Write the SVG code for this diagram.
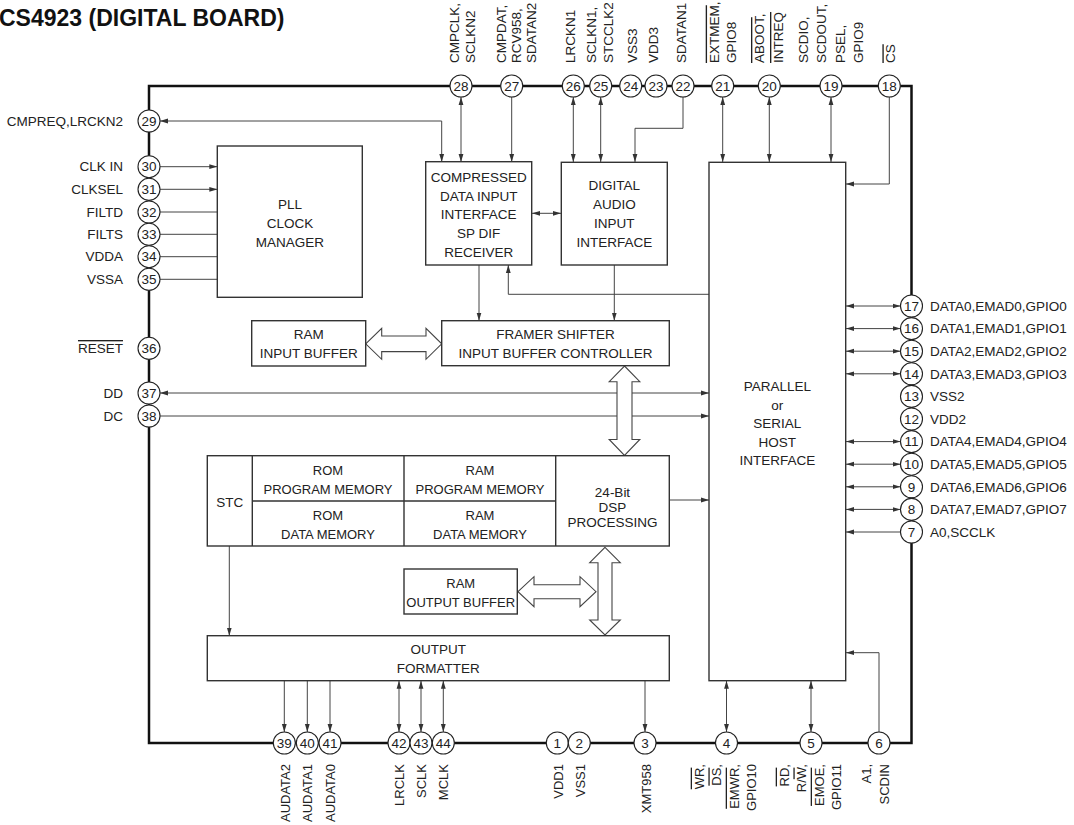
<svg xmlns="http://www.w3.org/2000/svg" width="1074" height="825" viewBox="0 0 1074 825">
<style>
text{font-family:"Liberation Sans",Arial,sans-serif;font-size:13.5px;fill:#222}
.t{font-size:23px;font-weight:bold;fill:#111}
.c{text-anchor:middle}
.r{text-anchor:end}
.s{font-size:13px}
.box{fill:#fff;stroke:#333;stroke-width:1.4}
.ln{fill:none;stroke:#444;stroke-width:1}
.fat{fill:#fff;stroke:#444;stroke-width:1.1}
.pin{fill:#fff;stroke:#222;stroke-width:1.1}
.ol{text-decoration:overline}
</style>
<defs>
<marker id="a" viewBox="0 0 8 6" refX="8" refY="3" markerWidth="8" markerHeight="6" markerUnits="userSpaceOnUse" orient="auto-start-reverse"><path d="M0,0.6 L8,3 L0,5.4 z" fill="#333"/></marker>
</defs>
<text class="t" x="-1" y="26">CS4923 (DIGITAL BOARD)</text>
<rect x="149" y="86" width="762.5" height="657" fill="none" stroke="#111" stroke-width="2.5"/>

<g id="connectors">
<path class="ln" d="M160,121 H441.7 V162" marker-start="url(#a)" marker-end="url(#a)"/>
<path class="ln" d="M461,97 V162" marker-start="url(#a)" marker-end="url(#a)"/>
<path class="ln" d="M511.7,97 V162" marker-end="url(#a)"/>
<path class="ln" d="M573.3,97 V162" marker-start="url(#a)" marker-end="url(#a)"/>
<path class="ln" d="M600.7,97 V162" marker-start="url(#a)" marker-end="url(#a)"/>
<path class="ln" d="M683,97 V128.3 H635 V162" marker-end="url(#a)"/>
<path class="ln" d="M722.7,97 V162" marker-start="url(#a)" marker-end="url(#a)"/>
<path class="ln" d="M769.3,97 V162" marker-start="url(#a)" marker-end="url(#a)"/>
<path class="ln" d="M831,97 V162" marker-start="url(#a)" marker-end="url(#a)"/>
<path class="ln" d="M889.3,97 V184 H846" marker-end="url(#a)"/>
<path class="ln" d="M532,213.3 H561" marker-start="url(#a)" marker-end="url(#a)"/>
<path class="ln" d="M479,265 V320.7" marker-end="url(#a)"/>
<path class="ln" d="M614.3,265 V320.7" marker-end="url(#a)"/>
<path class="ln" d="M709,294.3 H508.3 V265" marker-end="url(#a)"/>
<path class="ln" d="M160,166.7 H217.3" marker-end="url(#a)"/>
<path class="ln" d="M160,189.3 H217.3" marker-end="url(#a)"/>
<path class="ln" d="M160,212 H217.3"/>
<path class="ln" d="M160,234.3 H217.3"/>
<path class="ln" d="M160,256.7 H217.3"/>
<path class="ln" d="M160,279.3 H217.3"/>
<path class="ln" d="M160,393 H709" marker-start="url(#a)" marker-end="url(#a)"/>
<path class="ln" d="M160,416 H709" marker-end="url(#a)"/>
<path class="ln" d="M669.3,500 H709" marker-end="url(#a)"/>
<path class="ln" d="M229.3,546 V635.7" marker-end="url(#a)"/>
<path class="ln" d="M284.3,680.7 V732" marker-end="url(#a)"/>
<path class="ln" d="M307.3,680.7 V732" marker-end="url(#a)"/>
<path class="ln" d="M330,680.7 V732" marker-end="url(#a)"/>
<path class="ln" d="M399,680.7 V732" marker-start="url(#a)" marker-end="url(#a)"/>
<path class="ln" d="M421,680.7 V732" marker-start="url(#a)" marker-end="url(#a)"/>
<path class="ln" d="M443.3,680.7 V732" marker-start="url(#a)" marker-end="url(#a)"/>
<path class="ln" d="M645,680.7 V732" marker-end="url(#a)"/>
<path class="ln" d="M726.5,680.7 V732" marker-start="url(#a)" marker-end="url(#a)"/>
<path class="ln" d="M811,680.7 V732" marker-start="url(#a)" marker-end="url(#a)"/>
<path class="ln" d="M879,732 V652.7 H846" marker-end="url(#a)"/>
<path class="ln" d="M846,306 H900.5" marker-start="url(#a)" marker-end="url(#a)"/>
<path class="ln" d="M846,328.6 H900.5" marker-start="url(#a)" marker-end="url(#a)"/>
<path class="ln" d="M846,351.2 H900.5" marker-start="url(#a)" marker-end="url(#a)"/>
<path class="ln" d="M846,373.8 H900.5" marker-start="url(#a)" marker-end="url(#a)"/>
<path class="ln" d="M846,441.6 H900.5" marker-start="url(#a)" marker-end="url(#a)"/>
<path class="ln" d="M846,464.2 H900.5" marker-start="url(#a)" marker-end="url(#a)"/>
<path class="ln" d="M846,486.8 H900.5" marker-start="url(#a)" marker-end="url(#a)"/>
<path class="ln" d="M846,509.4 H900.5" marker-start="url(#a)" marker-end="url(#a)"/>
<path class="ln" d="M900.5,532 H846" marker-end="url(#a)"/>
<polygon class="fat" points="365.7,343.8 381.7,328.3 381.7,336 426,336 426,328.3 441.7,343.8 426,359.3 426,351.6 381.7,351.6 381.7,359.3"/>
<polygon class="fat" points="624.5,366 639.8,381.7 632,381.7 632,439.5 639.8,439.5 624.5,455.5 609.2,439.5 617,439.5 617,381.7 609.2,381.7"/>
<polygon class="fat" points="518,591.7 534,576.7 534,584.7 580,584.7 580,576.7 596,591.7 580,606.7 580,598.7 534,598.7 534,606.7"/>
<polygon class="fat" points="605,547.3 620.3,562.7 612,562.7 612,620 620.3,620 605,635 589.7,620 598,620 598,562.7 589.7,562.7"/>
</g>

<g id="pll"><rect class="box" x="217.3" y="146" width="145" height="151.3"/>
<text class="c" x="290" y="209">PLL</text><text class="c" x="290" y="228">CLOCK</text><text class="c" x="290" y="247">MANAGER</text></g>
<g id="ram-input"><rect class="box" x="251.7" y="320.7" width="114" height="45.3"/>
<text class="c" x="308.7" y="339">RAM</text><text class="c" x="308.7" y="358">INPUT BUFFER</text></g>
<g id="compressed"><rect class="box" x="425.7" y="161.7" width="106" height="103.3"/>
<text class="c" x="478.7" y="182">COMPRESSED</text><text class="c" x="478.7" y="200.5">DATA INPUT</text><text class="c" x="478.7" y="219">INTERFACE</text><text class="c" x="478.7" y="238">SP DIF</text><text class="c" x="478.7" y="257">RECEIVER</text></g>
<g id="digital-audio"><rect class="box" x="561.3" y="162.3" width="106" height="102.7"/>
<text class="c" x="614.3" y="190">DIGITAL</text><text class="c" x="614.3" y="209">AUDIO</text><text class="c" x="614.3" y="228">INPUT</text><text class="c" x="614.3" y="247">INTERFACE</text></g>
<g id="framer"><rect class="box" x="441.7" y="320.7" width="227.6" height="45"/>
<text class="c" x="555.5" y="339">FRAMER SHIFTER</text><text class="c" x="555.5" y="358">INPUT BUFFER CONTROLLER</text></g>
<g id="host"><rect class="box" x="709" y="162.3" width="136.7" height="518.4"/>
<text class="c" x="777.3" y="391">PARALLEL</text><text class="c" x="777.3" y="409.5">or</text><text class="c" x="777.3" y="428">SERIAL</text><text class="c" x="777.3" y="446.5">HOST</text><text class="c" x="777.3" y="465">INTERFACE</text></g>
<g id="dsp-row"><rect class="box" x="207.3" y="455.7" width="462" height="90.3"/>
<path class="box" d="M252.3,455.7 V546 M404,455.7 V546 M555.7,455.7 V546 M252.3,501 H555.7" fill="none"/>
<text class="c" x="229.8" y="506.5">STC</text>
<text class="c s" x="328" y="475">ROM</text><text class="c s" x="328" y="494">PROGRAM MEMORY</text>
<text class="c s" x="328" y="520">ROM</text><text class="c s" x="328" y="539">DATA MEMORY</text>
<text class="c s" x="480" y="475">RAM</text><text class="c s" x="480" y="494">PROGRAM MEMORY</text>
<text class="c s" x="480" y="520">RAM</text><text class="c s" x="480" y="539">DATA MEMORY</text>
<text class="c" x="612.5" y="497">24-Bit</text><text class="c" x="612.5" y="512">DSP</text><text class="c" x="612.5" y="527">PROCESSING</text></g>
<g id="ram-output"><rect class="box" x="404" y="569" width="113.3" height="45"/>
<text class="c s" x="460.7" y="588">RAM</text><text class="c s" x="460.7" y="607">OUTPUT BUFFER</text></g>
<g id="output-formatter"><rect class="box" x="207.3" y="635.7" width="462" height="45"/>
<text class="c" x="438.3" y="654">OUTPUT</text><text class="c" x="438.3" y="673">FORMATTER</text></g>

<g id="pins">
<g id="pin28"><circle class="pin" cx="461" cy="86" r="11"/><text class="c" x="461" y="90.7">28</text></g>
<g id="pin27"><circle class="pin" cx="511.7" cy="86" r="11"/><text class="c" x="511.7" y="90.7">27</text></g>
<g id="pin26"><circle class="pin" cx="573.3" cy="86" r="11"/><text class="c" x="573.3" y="90.7">26</text></g>
<g id="pin25"><circle class="pin" cx="600.7" cy="86" r="11"/><text class="c" x="600.7" y="90.7">25</text></g>
<g id="pin24"><circle class="pin" cx="630.7" cy="86" r="11"/><text class="c" x="630.7" y="90.7">24</text></g>
<g id="pin23"><circle class="pin" cx="656" cy="86" r="11"/><text class="c" x="656" y="90.7">23</text></g>
<g id="pin22"><circle class="pin" cx="683" cy="86" r="11"/><text class="c" x="683" y="90.7">22</text></g>
<g id="pin21"><circle class="pin" cx="722.7" cy="86" r="11"/><text class="c" x="722.7" y="90.7">21</text></g>
<g id="pin20"><circle class="pin" cx="769.3" cy="86" r="11"/><text class="c" x="769.3" y="90.7">20</text></g>
<g id="pin19"><circle class="pin" cx="831" cy="86" r="11"/><text class="c" x="831" y="90.7">19</text></g>
<g id="pin18"><circle class="pin" cx="889.3" cy="86" r="11"/><text class="c" x="889.3" y="90.7">18</text></g>
<g id="pin29"><circle class="pin" cx="149" cy="121" r="11"/><text class="c" x="149" y="125.7">29</text></g>
<g id="pin30"><circle class="pin" cx="149" cy="166.7" r="11"/><text class="c" x="149" y="171.4">30</text></g>
<g id="pin31"><circle class="pin" cx="149" cy="189.3" r="11"/><text class="c" x="149" y="194">31</text></g>
<g id="pin32"><circle class="pin" cx="149" cy="212" r="11"/><text class="c" x="149" y="216.7">32</text></g>
<g id="pin33"><circle class="pin" cx="149" cy="234.3" r="11"/><text class="c" x="149" y="239">33</text></g>
<g id="pin34"><circle class="pin" cx="149" cy="256.7" r="11"/><text class="c" x="149" y="261.4">34</text></g>
<g id="pin35"><circle class="pin" cx="149" cy="279.3" r="11"/><text class="c" x="149" y="284">35</text></g>
<g id="pin36"><circle class="pin" cx="149" cy="348.3" r="11"/><text class="c" x="149" y="353">36</text></g>
<g id="pin37"><circle class="pin" cx="149" cy="393" r="11"/><text class="c" x="149" y="397.7">37</text></g>
<g id="pin38"><circle class="pin" cx="149" cy="416" r="11"/><text class="c" x="149" y="420.7">38</text></g>
<g id="pin17"><circle class="pin" cx="911.5" cy="306" r="11"/><text class="c" x="911.5" y="310.7">17</text></g>
<g id="pin16"><circle class="pin" cx="911.5" cy="328.6" r="11"/><text class="c" x="911.5" y="333.3">16</text></g>
<g id="pin15"><circle class="pin" cx="911.5" cy="351.2" r="11"/><text class="c" x="911.5" y="355.9">15</text></g>
<g id="pin14"><circle class="pin" cx="911.5" cy="373.8" r="11"/><text class="c" x="911.5" y="378.5">14</text></g>
<g id="pin13"><circle class="pin" cx="911.5" cy="396.4" r="11"/><text class="c" x="911.5" y="401.1">13</text></g>
<g id="pin12"><circle class="pin" cx="911.5" cy="419" r="11"/><text class="c" x="911.5" y="423.7">12</text></g>
<g id="pin11"><circle class="pin" cx="911.5" cy="441.6" r="11"/><text class="c" x="911.5" y="446.3">11</text></g>
<g id="pin10"><circle class="pin" cx="911.5" cy="464.2" r="11"/><text class="c" x="911.5" y="468.9">10</text></g>
<g id="pin9"><circle class="pin" cx="911.5" cy="486.8" r="11"/><text class="c" x="911.5" y="491.5">9</text></g>
<g id="pin8"><circle class="pin" cx="911.5" cy="509.4" r="11"/><text class="c" x="911.5" y="514.1">8</text></g>
<g id="pin7"><circle class="pin" cx="911.5" cy="532" r="11"/><text class="c" x="911.5" y="536.7">7</text></g>
<g id="pin39"><circle class="pin" cx="284.3" cy="743" r="11"/><text class="c" x="284.3" y="747.7">39</text></g>
<g id="pin40"><circle class="pin" cx="307.3" cy="743" r="11"/><text class="c" x="307.3" y="747.7">40</text></g>
<g id="pin41"><circle class="pin" cx="330" cy="743" r="11"/><text class="c" x="330" y="747.7">41</text></g>
<g id="pin42"><circle class="pin" cx="399" cy="743" r="11"/><text class="c" x="399" y="747.7">42</text></g>
<g id="pin43"><circle class="pin" cx="421" cy="743" r="11"/><text class="c" x="421" y="747.7">43</text></g>
<g id="pin44"><circle class="pin" cx="443.3" cy="743" r="11"/><text class="c" x="443.3" y="747.7">44</text></g>
<g id="pin1"><circle class="pin" cx="557.3" cy="743" r="11"/><text class="c" x="557.3" y="747.7">1</text></g>
<g id="pin2"><circle class="pin" cx="579.3" cy="743" r="11"/><text class="c" x="579.3" y="747.7">2</text></g>
<g id="pin3"><circle class="pin" cx="645" cy="743" r="11"/><text class="c" x="645" y="747.7">3</text></g>
<g id="pin4"><circle class="pin" cx="726.5" cy="743" r="11"/><text class="c" x="726.5" y="747.7">4</text></g>
<g id="pin5"><circle class="pin" cx="811" cy="743" r="11"/><text class="c" x="811" y="747.7">5</text></g>
<g id="pin6"><circle class="pin" cx="879" cy="743" r="11"/><text class="c" x="879" y="747.7">6</text></g>
</g>

<g id="labels-left">
<text class="r" x="123" y="125.7">CMPREQ,LRCKN2</text>
<text class="r" x="123" y="171.4">CLK IN</text>
<text class="r" x="123" y="194">CLKSEL</text>
<text class="r" x="123" y="216.7">FILTD</text>
<text class="r" x="123" y="239">FILTS</text>
<text class="r" x="123" y="261.4">VDDA</text>
<text class="r" x="123" y="284">VSSA</text>
<text class="r ol" x="123" y="353">RESET</text>
<text class="r" x="123" y="397.7">DD</text>
<text class="r" x="123" y="420.7">DC</text>
</g>
<g id="labels-right">
<text x="930" y="310.7">DATA0,EMAD0,GPIO0</text>
<text x="930" y="333.3">DATA1,EMAD1,GPIO1</text>
<text x="930" y="355.9">DATA2,EMAD2,GPIO2</text>
<text x="930" y="378.5">DATA3,EMAD3,GPIO3</text>
<text x="930" y="401.1">VSS2</text>
<text x="930" y="423.7">VDD2</text>
<text x="930" y="446.3">DATA4,EMAD4,GPIO4</text>
<text x="930" y="468.9">DATA5,EMAD5,GPIO5</text>
<text x="930" y="491.5">DATA6,EMAD6,GPIO6</text>
<text x="930" y="514.1">DATA7,EMAD7,GPIO7</text>
<text x="930" y="536.7">A0,SCCLK</text>
</g>
<g id="labels-top">
<text transform="translate(459,63) rotate(-90)">CMPCLK,</text>
<text transform="translate(474.7,63) rotate(-90)">SCLKN2</text>
<text transform="translate(505.7,63) rotate(-90)">CMPDAT,</text>
<text transform="translate(521.4,63) rotate(-90)">RCV958,</text>
<text transform="translate(536.4,63) rotate(-90)">SDATAN2</text>
<text transform="translate(574.7,63) rotate(-90)">LRCKN1</text>
<text transform="translate(596.4,63) rotate(-90)">SCLKN1,</text>
<text transform="translate(613,63) rotate(-90)">STCCLK2</text>
<text transform="translate(637.4,63) rotate(-90)">VSS3</text>
<text transform="translate(658,63) rotate(-90)">VDD3</text>
<text transform="translate(686.4,63) rotate(-90)">SDATAN1</text>
<text transform="translate(718.7,63) rotate(-90)"><tspan class="ol">EXTMEM</tspan>,</text>
<text transform="translate(736.4,63) rotate(-90)">GPIO8</text>
<text transform="translate(764,63) rotate(-90)"><tspan class="ol">ABOOT</tspan>,</text>
<text class="ol" transform="translate(783,63) rotate(-90)">INTREQ</text>
<text transform="translate(808,63) rotate(-90)">SCDIO,</text>
<text transform="translate(826.4,63) rotate(-90)">SCDOUT,</text>
<text transform="translate(844.7,63) rotate(-90)">PSEL,</text>
<text transform="translate(863,63) rotate(-90)">GPIO9</text>
<text class="ol" transform="translate(895.4,63) rotate(-90)">CS</text>
</g>
<g id="labels-bottom">
<text class="r s" transform="translate(289.7,764) rotate(-90)">AUDATA2</text>
<text class="r s" transform="translate(312.2,764) rotate(-90)">AUDATA1</text>
<text class="r s" transform="translate(334.7,764) rotate(-90)">AUDATA0</text>
<text class="r s" transform="translate(403.7,764) rotate(-90)">LRCLK</text>
<text class="r s" transform="translate(425.7,764) rotate(-90)">SCLK</text>
<text class="r s" transform="translate(448,764) rotate(-90)">MCLK</text>
<text class="r s" transform="translate(562.7,764) rotate(-90)">VDD1</text>
<text class="r s" transform="translate(584.7,764) rotate(-90)">VSS1</text>
<text class="r s" transform="translate(650.7,764) rotate(-90)">XMT958</text>
<text class="r s" transform="translate(703.7,764) rotate(-90)"><tspan class="ol">WR</tspan>,</text>
<text class="r s" transform="translate(721.4,764) rotate(-90)"><tspan class="ol">DS</tspan>,</text>
<text class="r s" transform="translate(738.7,764) rotate(-90)"><tspan class="ol">EMWR</tspan>,</text>
<text class="r s" transform="translate(756.4,764) rotate(-90)">GPIO10</text>
<text class="r s" transform="translate(788.7,764) rotate(-90)"><tspan class="ol">RD</tspan>,</text>
<text class="r s" transform="translate(806.4,764) rotate(-90)">R/<tspan class="ol">W</tspan>,</text>
<text class="r s" transform="translate(823.7,764) rotate(-90)"><tspan class="ol">EMOE</tspan>,</text>
<text class="r s" transform="translate(841.4,764) rotate(-90)">GPIO11</text>
<text class="r s" transform="translate(871.4,764) rotate(-90)">A1,</text>
<text class="r s" transform="translate(889,764) rotate(-90)">SCDIN</text>
</g>
</svg>
